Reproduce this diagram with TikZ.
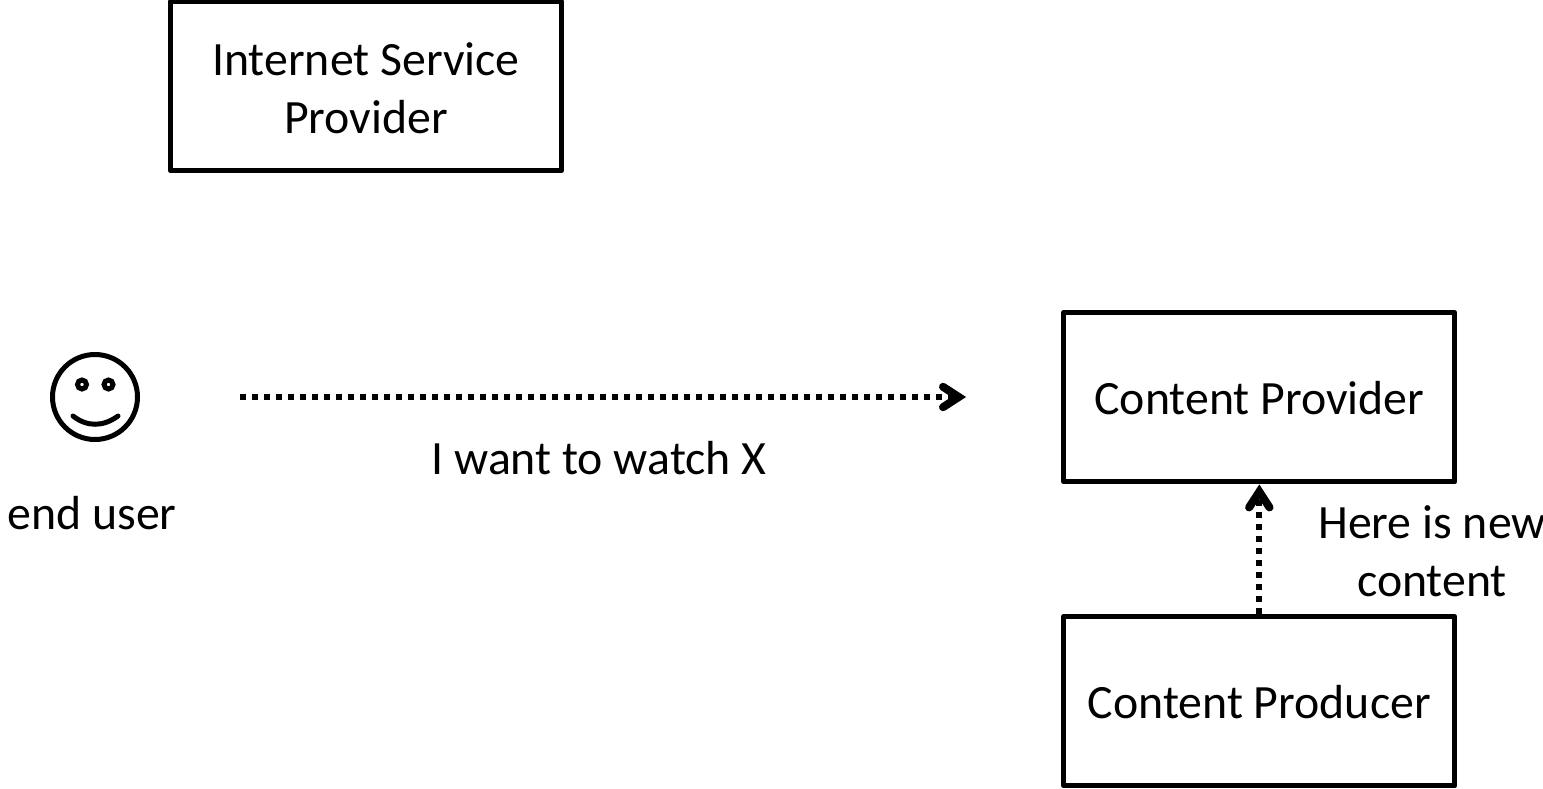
\documentclass[tikz,border=0pt]{standalone}
\usepackage{fontspec}
\setmainfont{Carlito}
\usetikzlibrary{arrows.meta}
\pgfdeclarearrow{
  name=Chevron,
  setup code={
    \pgfarrowssettipend{0pt}
    \pgfarrowssetlineend{-12pt}
    \pgfarrowssetvisualbackend{-27pt}
    \pgfarrowssetbackend{-27pt}
  },
  drawing code={
    \pgfsetdash{}{0pt}
    \pgfsetlinewidth{8pt}
    \pgfsetroundcap
    \pgfsetmiterjoin
    \pgfpathmoveto{\pgfpoint{-23pt}{10.2pt}}
    \pgfpathlineto{\pgfpoint{-7.3pt}{0pt}}
    \pgfpathlineto{\pgfpoint{-23pt}{-10.2pt}}
    \pgfusepathqstroke
  }
}
\tikzset{
  box/.style={draw=black,line width=5pt,line join=round,minimum width=391pt,minimum height=169.5pt,inner sep=0pt,align=center,font=\lbl},
  lab/.style={inner sep=0pt,align=center,font=\lbl},
  flow/.style={line width=6pt,dash pattern=on 6pt off 6pt,-Chevron},
  face/.style={draw=black,line width=5pt}
}
\newcommand{\lbl}{\fontsize{47.8pt}{58pt}\selectfont}
\newcommand{\lowered}[2]{\raisebox{-#1}[\height][\depth]{#2}}
\begin{document}
\begin{tikzpicture}[x=1pt,y=-1pt]
\useasboundingbox (0,0) rectangle (1543,789);
\node[box] (isp) at (366,86) {\lowered{2pt}{Internet Service}\\\lowered{2pt}{Provider}};
\node[box] (cprov) at (1259.3,397.2) {\lowered{0.8pt}{Content Provider}};
\node[box] (cprod) at (1259.3,701.2) {\lowered{0.8pt}{Content Producer}};
\node[lab] (user) at (92,513) {end user};
\node[lab] (want) at (599,458) {I want to watch X};
\node[lab] (newc) at (1432,551) {Here is new\\content};
\coordinate (smile) at (95,397);
\draw[face] (smile) circle (42.5);
\draw[face] (82,384.5) circle (4.5);
\draw[face] (108.5,384.5) circle (4.5);
\draw[face,line cap=round] (73,416) .. controls (87,427) and (103,427) .. (118,416);
\coordinate (from) at (240,397);
\coordinate (to) at (966,397);
\draw[flow] (from) -- (to);
\draw[flow] (cprod.north) -- (cprov.south);
\end{tikzpicture}
\end{document}
